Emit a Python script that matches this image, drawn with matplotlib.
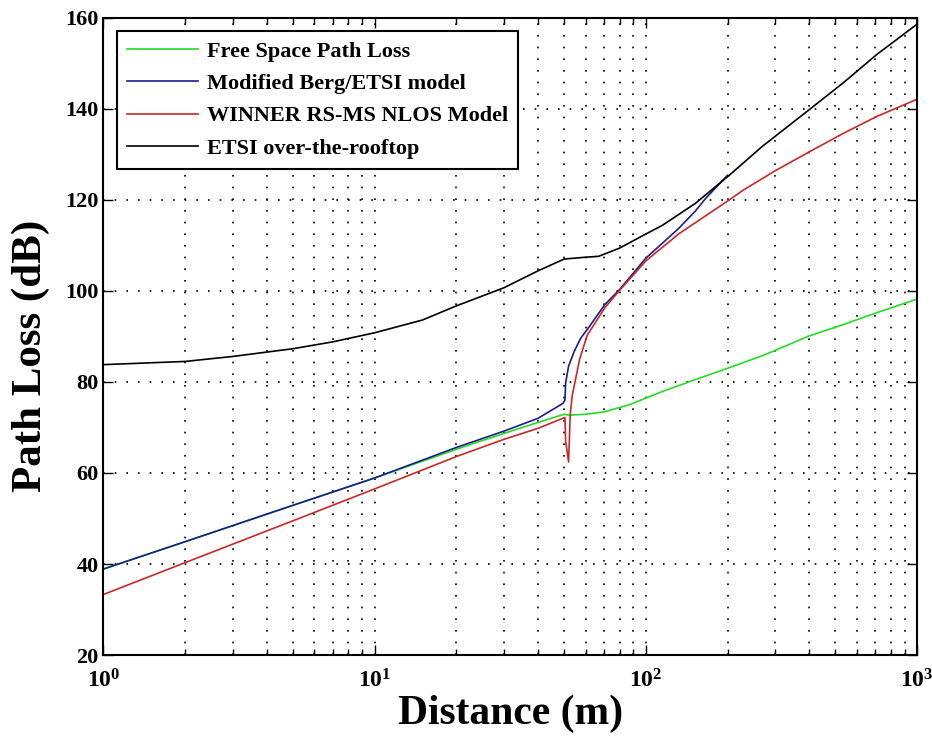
import numpy as np
import matplotlib
matplotlib.use('Agg')
import matplotlib.pyplot as plt

# Values (distance in m, path loss in dB)
free_d = [1, 2, 5, 10, 20, 30, 40, 50, 52, 60, 70, 87, 115, 152, 200, 270, 400, 534, 709, 1000]
free_pl = [38.9, 44.9, 52.9, 58.9, 65.2, 68.7, 71.1, 72.9, 72.7, 72.9, 73.4, 75.0, 77.9, 80.5,
           83.0, 85.8, 90.1, 92.6, 95.2, 98.2]

berg_d = [1, 2, 5, 10, 20, 30, 40, 49.5, 50.3, 50.6, 51.9, 54.5, 57.5, 61.6, 70.6, 80, 100,
          132, 152, 166, 200]
berg_pl = [38.9, 44.9, 52.9, 58.9, 65.6, 69.2, 72.0, 75.3, 76.0, 79.8, 83.5, 86.8, 89.6, 92.0,
           97.0, 100.3, 107.2, 113.7, 117.5, 120.3, 125.4]

winner_d = [1, 2, 5, 10, 20, 30, 40, 50.3, 50.6, 51.9, 52.6, 53.5, 54.7, 57, 60.7, 70.6, 79.7,
            100, 132, 202, 228, 302, 402, 534, 709, 1000]
winner_pl = [33.3, 40.3, 49.5, 56.5, 63.6, 67.4, 69.8, 72.2, 67.0, 62.4, 72.8, 77.0, 79.8, 85.0,
             90.2, 96.3, 100.0, 106.6, 112.5, 119.9, 122.1, 126.5, 130.6, 134.6, 138.3, 142.1]

etsi_d = [1, 2, 3, 5, 7, 10, 15, 20, 30, 40, 50, 60, 67, 80, 100, 115, 152, 203, 268, 400,
          534, 709, 1000]
etsi_pl = [83.8, 84.5, 85.6, 87.3, 88.8, 90.8, 93.6, 96.7, 100.7, 104.4, 107.0, 107.4, 107.6,
           109.4, 112.5, 114.4, 119.2, 125.4, 131.7, 139.8, 145.7, 151.9, 158.6]

labels = ['Free Space Path Loss', 'Modified Berg/ETSI model',
          'WINNER RS-MS NLOS Model', 'ETSI over-the-rooftop']

plt.rcParams['font.family'] = 'Liberation Serif'
plt.rcParams['font.weight'] = 'bold'
plt.rcParams['axes.labelweight'] = 'bold'
plt.rcParams['mathtext.fontset'] = 'custom'
plt.rcParams['mathtext.rm'] = 'Liberation Serif:bold'
plt.rcParams['mathtext.it'] = 'Liberation Serif:bold'
plt.rcParams['mathtext.bf'] = 'Liberation Serif:bold'

fig = plt.figure(figsize=(9.32, 7.41), dpi=100)
ax = fig.add_axes([0.111, 0.116, 0.873, 0.86])

ax.semilogx(free_d, free_pl, color='#22dd22', lw=1.2, label=labels[0])
ax.semilogx(berg_d, berg_pl, color='#1c1c8c', lw=1.2, label=labels[1])
ax.semilogx(winner_d, winner_pl, color='#c82828', lw=1.2, label=labels[2])
ax.semilogx(etsi_d, etsi_pl, color='black', lw=1.2, label=labels[3])

ax.set_xlim(1, 1000)
ax.set_ylim(20, 160)
ax.set_yticks(np.arange(20, 161, 20))

dots = (0, (1, 6))
ax.grid(True, which='major', color='black', linestyle=dots, linewidth=1.2)
ax.grid(True, which='minor', axis='x', color='black', linestyle=dots, linewidth=1.2)

ax.tick_params(which='both', direction='in', top=True, right=True, labelsize=16)
ax.tick_params(which='major', length=7, width=1)
ax.tick_params(which='minor', length=4, width=1)
ax.tick_params(axis='x', which='major', pad=10, labelsize=17)
for s in ax.spines.values():
    s.set_linewidth(1.5)

ax.set_xlabel('Distance (m)', fontsize=30, labelpad=2)
ax.set_ylabel('Path Loss (dB)', fontsize=31)
ax.yaxis.set_label_coords(-0.066, 0.47)

leg = ax.legend(loc='upper left', fontsize=16, handlelength=3.2, handletextpad=0.4,
                labelspacing=0.53, borderpad=0.45, borderaxespad=0.6,
                fancybox=False, framealpha=1, edgecolor='black')
leg.get_frame().set_linewidth(1.5)

fig.savefig('out.png', dpi=100)
